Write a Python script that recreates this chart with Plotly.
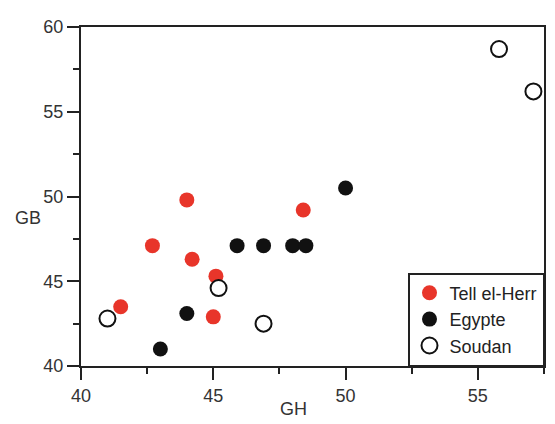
import plotly.graph_objects as go

series_names = ["Tell el-Herr", "Egypte", "Soudan"]
tell_gh = [44.0, 42.7, 44.2, 45.1, 41.5, 45.0, 48.4]
tell_gb = [49.8, 47.1, 46.3, 45.3, 43.5, 42.9, 49.2]
egypte_gh = [50.0, 45.9, 46.9, 48.0, 48.5, 44.0, 43.0]
egypte_gb = [50.5, 47.1, 47.1, 47.1, 47.1, 43.1, 41.0]
soudan_gh = [55.8, 57.1, 41.0, 45.2, 46.9]
soudan_gb = [58.7, 56.2, 42.8, 44.6, 42.5]
x_ticks = [40, 45, 50, 55]
y_ticks = [40, 45, 50, 55, 60]

FONT = "Liberation Sans, Arial, Helvetica, sans-serif"
TXT = "#333333"
AX = "#222222"

fig = go.Figure()
fig.add_trace(go.Scatter(x=tell_gh, y=tell_gb, mode="markers", name=series_names[0],
                         cliponaxis=False,
                         marker=dict(size=15, color="#e8352a", line=dict(width=0))))
fig.add_trace(go.Scatter(x=egypte_gh, y=egypte_gb, mode="markers", name=series_names[1],
                         cliponaxis=False,
                         marker=dict(size=15, color="#111111", line=dict(width=0))))
fig.add_trace(go.Scatter(x=soudan_gh, y=soudan_gb, mode="markers", name=series_names[2],
                         cliponaxis=False,
                         marker=dict(size=16, color="white", line=dict(width=2, color="#111111"))))

axis_common = dict(showline=True, linecolor=AX, linewidth=2, mirror=True,
                   ticks="outside", ticklen=12, tickwidth=2, tickcolor=AX,
                   showgrid=False, zeroline=False,
                   tickfont=dict(family=FONT, size=18, color=TXT))

fig.update_xaxes(range=[40, 57.5], tickvals=x_ticks,
                 minor=dict(ticks="outside", ticklen=6, tickwidth=2, tickcolor=AX, dtick=2.5, tick0=40),
                 **axis_common)
fig.update_yaxes(range=[40, 60], tickvals=y_ticks,
                 minor=dict(ticks="outside", ticklen=6, tickwidth=2, tickcolor=AX, dtick=2.5, tick0=40),
                 **axis_common)

fig.add_annotation(text="GB", xref="paper", yref="paper", x=-0.114, y=0.436,
                   showarrow=False, xanchor="center", yanchor="middle",
                   font=dict(family=FONT, size=18, color=TXT))
fig.add_annotation(text="GH", xref="paper", yref="paper", x=0.458, y=-0.128,
                   showarrow=False, xanchor="center", yanchor="middle",
                   font=dict(family=FONT, size=18, color=TXT))

fig.update_layout(
    width=547, height=416,
    margin=dict(l=73, r=9, t=9, b=58),
    paper_bgcolor="white", plot_bgcolor="white",
    legend=dict(x=1, y=0, xanchor="right", yanchor="bottom",
                bordercolor=AX, borderwidth=1.5, bgcolor="white",
                font=dict(family=FONT, size=18, color="#222222"),
                itemsizing="trace"),
    showlegend=True,
)

fig.write_html("out.html")
